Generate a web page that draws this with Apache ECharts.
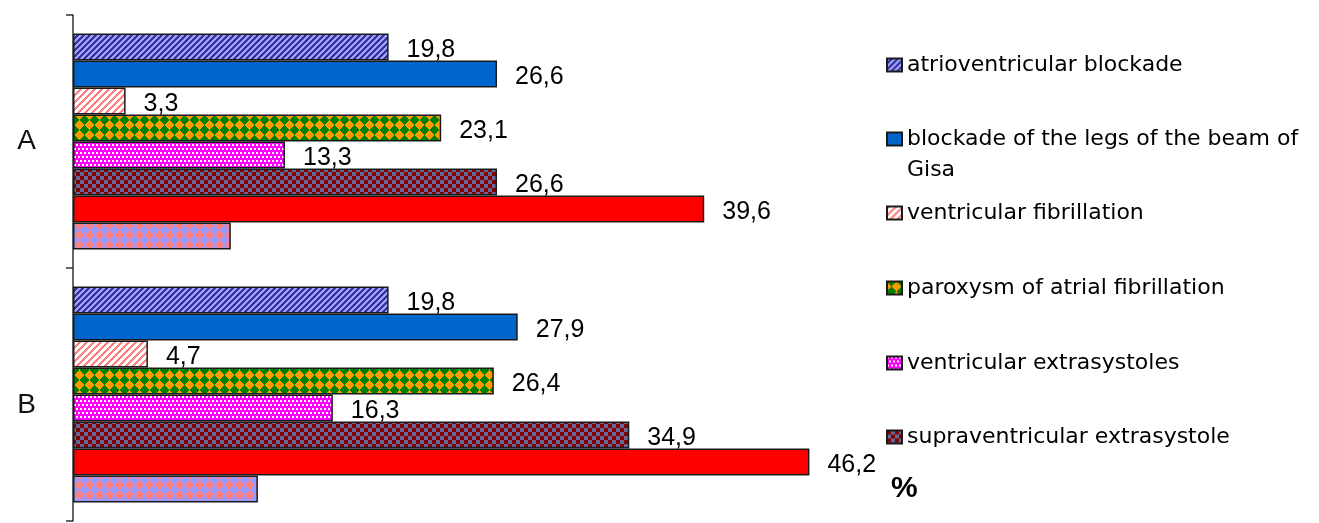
<!DOCTYPE html>
<html>
<head>
<meta charset="utf-8">
<script src="https://cdn.jsdelivr.net/npm/echarts@6/dist/echarts.min.js"></script>
<style>
  html, body { margin: 0; padding: 0; background: #fff; }
  #chart { width: 1319px; height: 523px; }
</style>
</head>
<body>
<div id="chart"></div>
<script>
// groups on the category axis
const categories = ['A', 'B']

// percentages per group (A, B)
const avBlockade = [19.8, 19.8]
const legBlockade = [26.6, 27.9]
const ventFibrillation = [3.3, 4.7]
const atrialParoxysm = [23.1, 26.4]
const ventExtrasystoles = [13.3, 16.3]
const supraExtrasystole = [26.6, 34.9]
const redBars = [39.6, 46.2]
const pinkBars = [9.9, 11.6]

const legendNames = [
  'atrioventricular blockade',
  'blockade of the legs of the beam of Gisa',
  'ventricular fibrillation',
  'paroxysm of atrial fibrillation',
  'ventricular extrasystoles',
  'supraventricular extrasystole'
]

// build a repeating fill from a per-pixel colour function
function tile (size, paint) {
  let c = document.createElement('canvas')
  c.width = size
  c.height = size
  let ctx = c.getContext('2d')
  let img = ctx.createImageData(size, size)
  for (let y = 0; y < size; y++) {
    for (let x = 0; x < size; x++) {
      let col = paint(x, y)
      let i = (y * size + x) * 4
      img.data[i] = parseInt(col.slice(1, 3), 16)
      img.data[i + 1] = parseInt(col.slice(3, 5), 16)
      img.data[i + 2] = parseInt(col.slice(5, 7), 16)
      img.data[i + 3] = 255
    }
  }
  ctx.putImageData(img, 0, 0)
  return { image: c, repeat: 'repeat' }
}

function stripes (size, width, fg, bg) {
  return tile(size, (x, y) => ((x + y) % size) < width ? fg : bg)
}

function diamonds (a, fg, bg) {
  return tile(a, (x, y) => {
    let u = Math.floor((x + 0.5 + y + 0.5) / a)
    let v = Math.floor((x + 0.5 - y - 0.5 + a) / a)
    return (u + v) % 2 === 0 ? bg : fg
  })
}

const fills = {
  av: stripes(6, 3, '#a0a0ff', '#333399'),
  leg: '#0066cc',
  vf: stripes(7, 3, '#ff8080', '#ffffff'),
  af: diamonds(10, '#008000', '#ff9900'),
  ve: tile(8, (x, y) => {
    let row = Math.floor(y / 4)
    let sx = (x + row * 2) % 4
    return (y % 4 < 2 && sx < 2) ? '#ffffff' : '#ff00ff'
  }),
  sve: tile(8, (x, y) => (Math.floor(x / 4) + Math.floor(y / 4)) % 2 === 0 ? '#800000' : '#666699'),
  red: '#ff0000',
  pink: diamonds(10, '#9999ff', '#ff8080')
}

function fmt (p) {
  return p.value.toFixed(1).replace('.', ',')
}

function bar (name, data, fill, labelled) {
  return {
    name: name,
    type: 'bar',
    data: data,
    barWidth: 27,
    barGap: '0%',
    itemStyle: { color: fill, borderColor: '#1a1a1a', borderWidth: 1.5 },
    label: {
      show: labelled,
      position: 'right',
      distance: 18,
      offset: [0, 3],
      color: '#000',
      fontFamily: 'Liberation Sans',
      fontSize: 25,
      formatter: fmt
    },
    emphasis: { disabled: true }
  }
}

const legendCenters = [65, 139, 213, 288, 363, 437]

let chart = echarts.init(document.getElementById('chart'))
chart.setOption({
  animation: false,
  backgroundColor: '#fff',
  title: {
    text: '%',
    left: 891,
    top: 474,
    padding: 0,
    textStyle: { fontFamily: 'Liberation Sans', fontSize: 30, fontWeight: 'bold', color: '#000' }
  },
  grid: { left: 73, top: 15, width: 797, height: 506 },
  xAxis: { type: 'value', min: 0, max: 50, show: false },
  yAxis: {
    type: 'category',
    data: categories,
    inverse: true,
    axisLine: { show: true, lineStyle: { color: '#333', width: 1.5 } },
    axisTick: { show: true, length: 7, lineStyle: { color: '#333', width: 1.5 } },
    axisLabel: {
      margin: 37,
      fontSize: 28,
      color: '#111',
      fontFamily: 'Liberation Sans',
      formatter: v => v === 'B' ? '{low|B}' : v,
      rich: { low: { fontSize: 28, padding: [22, 0, 0, 0] } }
    }
  },
  legend: legendNames.map((n, i) => ({
    data: [n],
    orient: 'vertical',
    left: 886,
    top: i === 1 ? legendCenters[i] - 46.5 : legendCenters[i] - 15.5,
    padding: 0,
    itemWidth: 15,
    itemHeight: 13,
    icon: 'rect',
    selectedMode: false,
    formatter: i === 1 ? '\nblockade of the legs of the beam of\nGisa' : '{name}',
    textStyle: { fontFamily: 'DejaVu Sans', fontSize: 22, lineHeight: 31, color: '#000' }
  })),
  series: [
    bar(legendNames[0], avBlockade, fills.av, true),
    bar(legendNames[1], legBlockade, fills.leg, true),
    bar(legendNames[2], ventFibrillation, fills.vf, true),
    bar(legendNames[3], atrialParoxysm, fills.af, true),
    bar(legendNames[4], ventExtrasystoles, fills.ve, true),
    bar(legendNames[5], supraExtrasystole, fills.sve, true),
    bar('series 7', redBars, fills.red, true),
    bar('series 8', pinkBars, fills.pink, false)
  ]
})
</script>
</body>
</html>
